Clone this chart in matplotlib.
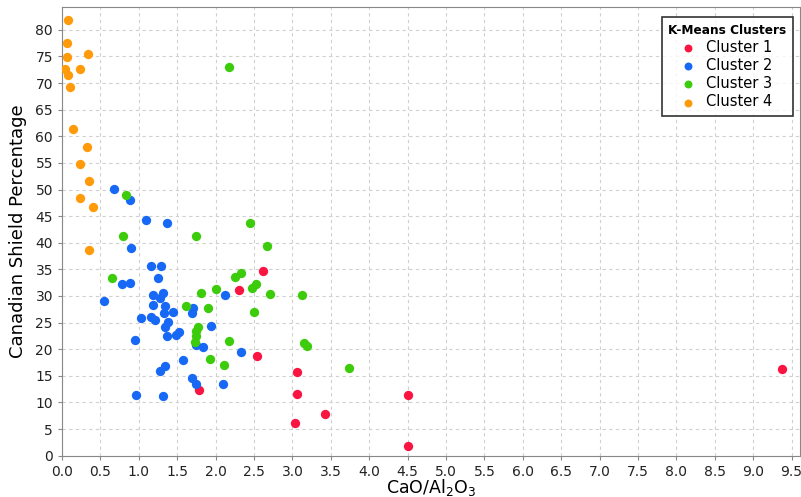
import matplotlib
matplotlib.use('Agg')
import matplotlib.pyplot as plt
import numpy as np

# cluster data: CaO/Al2O3 ratio vs Canadian Shield percentage
c1_x = [9.375, 4.51, 4.505, 3.42, 3.04, 3.06, 3.06, 2.54, 2.31, 2.62, 1.79]
c1_y = [16.2, 11.35, 1.8, 7.9, 6.2, 11.5, 15.7, 18.7, 31.1, 34.6, 12.3]

c2_x = [0.68, 0.89, 1.10, 1.37, 0.90, 1.155, 1.29, 1.25, 0.785, 0.885, 0.55,
        1.19, 1.315, 1.27, 1.18, 1.34, 1.44, 1.33, 1.03, 1.16, 1.21, 1.38,
        1.34, 1.52, 1.49, 1.37, 0.95, 1.575, 1.345, 1.28, 1.69, 1.75, 0.96,
        1.31, 1.70, 1.69, 2.12, 1.94, 1.74, 1.84, 2.33, 2.10]
c2_y = [50.1, 48.1, 44.2, 43.7, 39.0, 35.7, 35.7, 33.3, 32.2, 32.4, 29.1,
        30.2, 30.6, 29.7, 28.3, 28.2, 27.0, 26.8, 25.9, 26.1, 25.5, 25.2,
        24.2, 23.3, 22.6, 22.5, 21.7, 18.0, 16.9, 15.9, 14.6, 13.4, 11.4,
        11.2, 27.7, 26.8, 30.1, 24.3, 20.8, 20.5, 19.4, 13.4]

c3_x = [2.17, 0.83, 0.79, 1.75, 2.45, 2.665, 0.655, 2.33, 2.25, 2.53, 2.48,
        2.01, 1.81, 2.71, 3.125, 1.62, 1.90, 2.50, 1.77, 1.75, 1.745, 1.73,
        2.18, 3.15, 3.19, 1.93, 2.11, 3.74]
c3_y = [73.1, 48.9, 41.2, 41.2, 43.7, 39.3, 33.3, 34.4, 33.5, 32.2, 31.5,
        31.3, 30.5, 30.3, 30.2, 28.2, 27.8, 26.9, 24.1, 23.4, 22.5, 21.3,
        21.5, 21.1, 20.6, 18.2, 17.0, 16.4]

c4_x = [0.078, 0.06, 0.06, 0.34, 0.04, 0.24, 0.08, 0.11, 0.14, 0.33, 0.23,
        0.35, 0.23, 0.40, 0.35]
c4_y = [81.8, 77.5, 74.9, 75.5, 72.7, 72.6, 71.5, 69.3, 61.4, 57.9, 54.8,
        51.6, 48.4, 46.7, 38.7]

labels = ['Cluster 1', 'Cluster 2', 'Cluster 3', 'Cluster 4']
colors = ['#fa1441', '#1768f5', '#3ccc0c', '#ff9a0a']

fig = plt.figure(figsize=(8.01, 4.97), dpi=100)
ax = fig.add_axes([0.0774, 0.0831, 0.9214, 0.903])

series = [(c1_x, c1_y), (c2_x, c2_y), (c3_x, c3_y), (c4_x, c4_y)]
for (xs, ys), lab, col in zip(series, labels, colors):
    ax.scatter(xs, ys, s=45, color=col, label=lab, linewidths=0, zorder=3)

ax.set_xlim(0, 9.61)
ax.set_ylim(0, 84.3)
ax.set_xticks(np.arange(0, 9.51, 0.5))
ax.set_xticklabels([f'{v:.1f}' for v in np.arange(0, 9.51, 0.5)])
ax.set_yticks(np.arange(0, 81, 5))
ax.grid(True, linestyle=(0, (3, 3)), color='#d0d0d0', linewidth=0.8)
ax.set_axisbelow(True)

for s in ax.spines.values():
    s.set_color('#888888')
ax.tick_params(colors='#888888', labelcolor='#222222', labelsize=10, length=3)

ax.set_xlabel('CaO/Al$_\\mathregular{2}$O$_\\mathregular{3}$', fontsize=12.5, labelpad=-1)
ax.set_ylabel('Canadian Shield Percentage', fontsize=13, labelpad=6)

leg = ax.legend(title='K-Means Clusters', loc='upper right', fontsize=10.5,
                frameon=True, fancybox=False, edgecolor='black',
                handlelength=0.8, handletextpad=0.8, borderpad=0.45,
                labelspacing=0.22, markerscale=0.85, borderaxespad=0,
                bbox_to_anchor=(0.9905, 0.9775))
leg.get_title().set_fontweight('bold')
leg.get_title().set_fontsize(8.7)
leg.get_frame().set_linewidth(1.2)

fig.savefig('out.png', dpi=100)
